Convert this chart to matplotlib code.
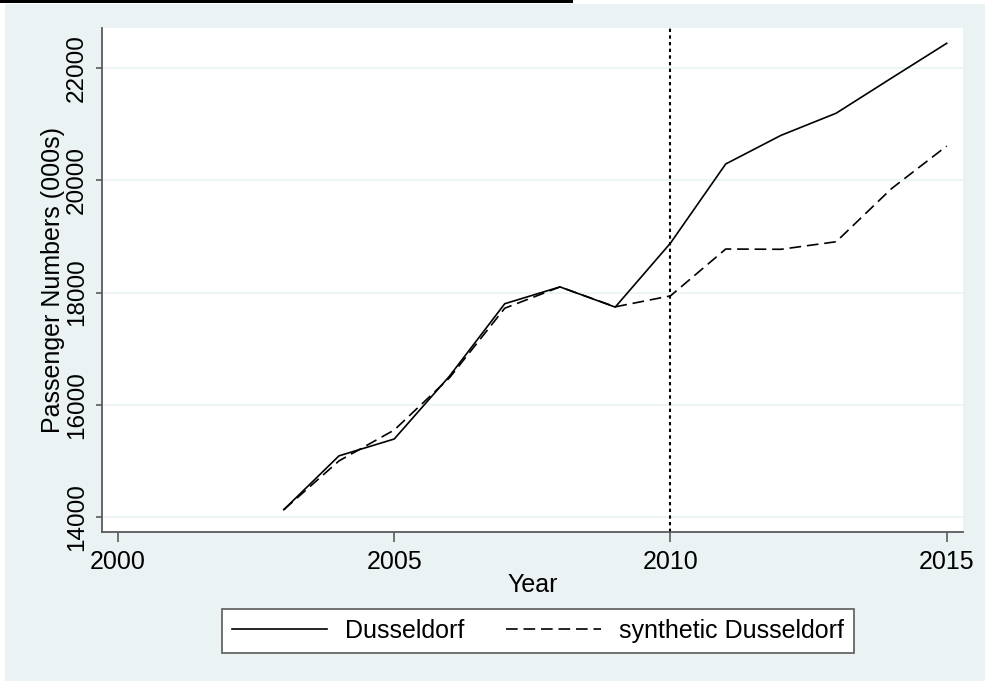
import matplotlib
matplotlib.use("Agg")
import matplotlib.pyplot as plt
from matplotlib.lines import Line2D
from matplotlib.patches import Rectangle

years = [2003, 2004, 2005, 2006, 2007, 2008, 2009, 2010, 2011, 2012, 2013, 2014, 2015]
dusseldorf = [14130, 15090, 15390, 16510, 17800, 18100, 17740, 18880, 20290, 20800, 21195, 21820, 22440]
synthetic = [14130, 15000, 15550, 16480, 17720, 18100, 17745, 17940, 18775, 18770, 18905, 19850, 20610]
x_ticks = [2000, 2005, 2010, 2015]
y_ticks = [14000, 16000, 18000, 20000, 22000]
treatment_year = 2010

plt.rcParams['font.family'] = ['Liberation Sans', 'DejaVu Sans']
BG = '#EAF2F3'
FS = 18
W, H = 985, 681
fig = plt.figure(figsize=(W / 100, H / 100), dpi=100, facecolor='white')

# light background panel
fig.patches.append(Rectangle((5 / W, 0), 1 - 5 / W, 1 - 4 / H, transform=fig.transFigure,
                             facecolor=BG, edgecolor='none', zorder=-10))
# black bar at top
fig.patches.append(Rectangle((0, 1 - 3 / H), 573 / W, 3 / H, transform=fig.transFigure,
                             facecolor='black', edgecolor='none', zorder=-9))

ax = fig.add_axes([102 / W, 1 - 532 / H, (962.7 - 102) / W, (532 - 28) / H])
ax.set_facecolor('white')

ax.plot(years, dusseldorf, color='black', lw=1.2, label='Dusseldorf', solid_joinstyle='miter')
ax.plot(years, synthetic, color='black', lw=1.2, dashes=(7, 3.5), label='synthetic Dusseldorf')
ax.axvline(treatment_year, color='black', lw=1.5, linestyle=(0, (1.6, 1.6)))

ax.set_xlim(1999.71, 2015.29)
ax.set_ylim(13733, 22713)
ax.set_xticks(x_ticks)
ax.set_yticks(y_ticks)
ax.yaxis.grid(True, color=BG, lw=1.2)
ax.set_axisbelow(True)

for s in ['top', 'right']:
    ax.spines[s].set_visible(False)
for s in ['left', 'bottom']:
    ax.spines[s].set_color('#5a5a5a')
    ax.spines[s].set_linewidth(1.3)

ax.tick_params(axis='x', colors='#5a5a5a', width=1.2, length=7, labelsize=FS,
               labelcolor='black', pad=6)
ax.tick_params(axis='y', colors='#5a5a5a', width=1.2, length=4.5, labelsize=17.5,
               labelcolor='black', pad=5.5)
plt.setp(ax.get_yticklabels(), rotation=90, va='center')

ax.set_xlabel('Year', fontsize=FS, labelpad=-0.5)
ax.set_ylabel('Passenger Numbers (000s)', fontsize=FS, labelpad=0.5)

handles = [Line2D([], [], color='black', lw=1.2),
           Line2D([], [], color='black', lw=1.2, dashes=(7, 3.5))]
leg = fig.legend(handles, ['Dusseldorf', 'synthetic Dusseldorf'], ncol=2,
                 loc='center', bbox_to_anchor=(538 / W, 1 - 631 / H),
                 fontsize=FS, frameon=True, fancybox=False, handlelength=3.8,
                 handletextpad=0.7, columnspacing=1.7, borderpad=0.4)
leg.get_frame().set_edgecolor('#5a5a5a')
leg.get_frame().set_linewidth(1.2)
leg.get_frame().set_facecolor('white')
leg.get_frame().set_alpha(1)

fig.savefig('out.png', dpi=100, facecolor='white')
